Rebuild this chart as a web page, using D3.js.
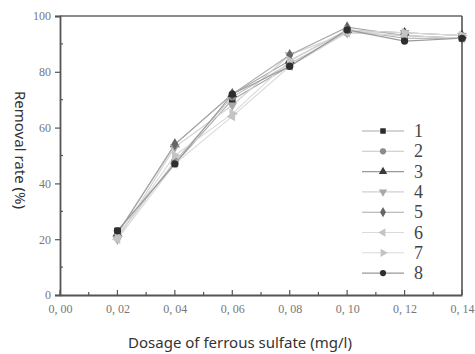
<!DOCTYPE html>
<html><head><meta charset="utf-8">
<script src="https://cdn.jsdelivr.net/npm/d3@7"></script>
<style>body{margin:0;background:#fff}svg{display:block}</style>
</head><body>
<svg id="c" width="475" height="354"></svg>
<script>
const dosage = [0.02, 0.04, 0.06, 0.08, 0.10, 0.12, 0.14];
const seriesNames = ["1","2","3","4","5","6","7","8"];
const s1 = [23, 47, 70, 82, 95, 92, 92];
const s2 = [21, 48, 71, 83, 94, 93, 92];
const s3 = [22, 54, 72, 84, 95, 94, 93];
const s4 = [20, 53, 68, 86, 94, 94, 93];
const s5 = [22, 54, 72, 86, 96, 93, 92];
const s6 = [20, 47, 64, 82, 94, 93, 92];
const s7 = [21, 50, 65, 84, 95, 94, 93];
const s8 = [23, 47, 72, 82, 95, 91, 92];
const allSeries = [s1,s2,s3,s4,s5,s6,s7,s8];
const xTicks = [0, 0.02, 0.04, 0.06, 0.08, 0.10, 0.12, 0.14];
const xTickLabels = ["0, 00","0, 02","0, 04","0, 06","0, 08","0, 10","0, 12","0, 14"];
const yTicks = [0, 20, 40, 60, 80, 100];

const markerColors = ["#2a2a2a","#8a8a8a","#3a3a3a","#a8a8a8","#666","#c4c4c4","#c4c4c4","#2e2e2e"];
const lineColors = ["#aaa","#c4c4c4","#999","#d0d0d0","#aaa","#dadada","#dadada","#999"];
const symbols = [d3.symbolSquare, d3.symbolCircle, d3.symbolTriangle, "tdown", d3.symbolDiamond, "tleft", "tright", d3.symbolCircle];

const svg = d3.select("#c");
const L = 60, R = 462, T = 16, B = 295;
const x = d3.scaleLinear().domain([0, 0.14]).range([L, R]);
const y = d3.scaleLinear().domain([0, 100]).range([B, T]);

svg.append("line").attr("x1", L).attr("x2", R).attr("y1", T).attr("y2", T).attr("stroke", "#666").attr("stroke-width", 1.6);
svg.append("line").attr("x1", R).attr("x2", R).attr("y1", T).attr("y2", B).attr("stroke", "#555").attr("stroke-width", 1.6);

const serif = "Liberation Serif, DejaVu Serif, serif";
const xAxis = svg.append("g").attr("transform", `translate(0,${B})`)
  .call(d3.axisBottom(x).tickValues(xTicks).tickSize(0).tickPadding(9).tickFormat((d,i)=>xTickLabels[i]));
const yAxis = svg.append("g").attr("transform", `translate(${L},0)`)
  .call(d3.axisLeft(y).tickValues(yTicks).tickSize(5).tickPadding(4));
[xAxis, yAxis].forEach(g => {
  g.attr("font-family", serif);
  g.select(".domain").attr("stroke", "#555").attr("stroke-width", 1.8);
  g.selectAll("text").style("font-family", serif).attr("font-size", 12).attr("fill", "#777");
  g.selectAll(".tick line").attr("stroke", "#555").attr("stroke-width", 1.2);
});
xTicks.forEach(v => svg.append("line").attr("x1", x(v)).attr("x2", x(v)).attr("y1", B).attr("y2", B-5).attr("stroke", "#555").attr("stroke-width", 1.2));
d3.range(0.01, 0.14, 0.02).forEach(v => svg.append("line").attr("x1", x(v)).attr("x2", x(v)).attr("y1", B).attr("y2", B-3).attr("stroke", "#555").attr("stroke-width", 1.2));
d3.range(10, 100, 20).forEach(v => svg.append("line").attr("x1", L).attr("x2", L+3).attr("y1", y(v)).attr("y2", y(v)).attr("stroke", "#555").attr("stroke-width", 1.2));

svg.append("text").attr("x", 240).attr("y", 348).attr("text-anchor", "middle")
  .attr("font-family", "Noto Sans, sans-serif").attr("font-size", 15).attr("fill", "#333")
  .text("Dosage of ferrous sulfate (mg/l)");
svg.append("text").attr("transform", "translate(15,150) rotate(90)").attr("text-anchor", "middle")
  .attr("font-family", "Noto Sans, sans-serif").attr("font-size", 15).attr("fill", "#333")
  .text("Removal rate (%)");

function symPath(s, size) {
  if (s === "tdown" || s === "tleft" || s === "tright") return d3.symbol(d3.symbolTriangle, size)();
  return d3.symbol(s, size)();
}
function symRot(s) { return s === "tdown" ? 180 : s === "tleft" ? -90 : s === "tright" ? 90 : 0; }

const line = d3.line().x((d,i)=>x(dosage[i])).y(d=>y(d));
allSeries.forEach((s, k) => {
  svg.append("path").datum(s).attr("d", line).attr("fill", "none").attr("stroke", lineColors[k]).attr("stroke-width", 1.1);
});
allSeries.forEach((s, k) => {
  svg.append("g").selectAll("path").data(s).join("path")
    .attr("d", symPath(symbols[k], 42))
    .attr("transform", (d,i)=>`translate(${x(dosage[i])},${y(d)}) rotate(${symRot(symbols[k])})`)
    .attr("fill", markerColors[k]);
});

const lg = svg.append("g");
seriesNames.forEach((n, k) => {
  const yy = 131 + k * 20.3;
  lg.append("line").attr("x1", 362).attr("x2", 404).attr("y1", yy).attr("y2", yy).attr("stroke", lineColors[k]).attr("stroke-width", 1.1);
  lg.append("path").attr("d", symPath(symbols[k], 30)).attr("transform", `translate(383,${yy}) rotate(${symRot(symbols[k])})`).attr("fill", markerColors[k]);
  lg.append("text").attr("x", 414).attr("y", yy + 6).attr("font-family", serif).attr("font-size", 18).attr("fill", "#444").text(n);
});
</script>
</body></html>
